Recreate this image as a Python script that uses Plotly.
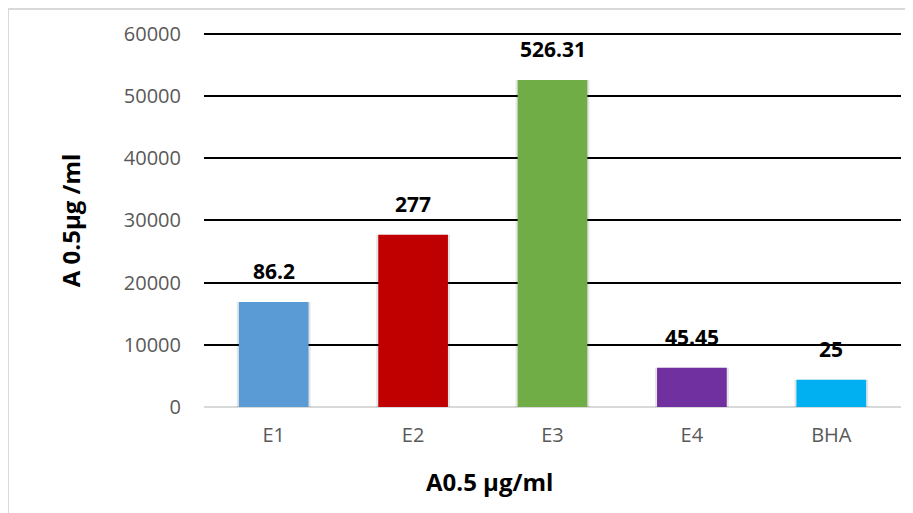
import plotly.graph_objects as go

categories = ["E1", "E2", "E3", "E4", "BHA"]
bar_values = [16900, 27700, 52600, 6300, 4400]
label_texts = ["86.2", "277", "526.31", "45.45", "25"]
bar_colors = ["#5B9BD5", "#C00000", "#70AD47", "#7030A0", "#00B0F0"]
y_ticks = [0, 10000, 20000, 30000, 40000, 50000, 60000]
y_tick_text = ["0", "10000", "20000", "30000", "40000", "50000", "60000"]

x_title = "A0.5 µg/ml"
y_title = "A 0.5µg /ml"

FONT = "Open Sans"

fig = go.Figure()

# soft shadow
fig.add_trace(go.Bar(
    x=categories, y=bar_values, width=0.53,
    marker=dict(color="rgba(0,0,0,0.10)", line=dict(width=0)),
    hoverinfo="skip", showlegend=False,
))
fig.add_trace(go.Bar(
    x=categories, y=bar_values, width=0.5,
    marker=dict(color=bar_colors, line=dict(width=0)),
    showlegend=False,
))
fig.update_layout(barmode="overlay")

for c, v, t in zip(categories, bar_values, label_texts):
    fig.add_annotation(
        x=c, y=v, text=t, showarrow=False, yanchor="middle", yshift=31,
        font=dict(family=FONT, size=21, color="#000000", weight="bold"),
    )

fig.add_annotation(
    xref="paper", yref="paper", x=0.4096, y=-0.198, text=x_title,
    showarrow=False, xanchor="center", yanchor="middle",
    font=dict(family=FONT, size=24, color="#000000", weight="bold"),
)
fig.add_annotation(
    xref="paper", yref="paper", x=-0.192, y=0.5, text=y_title, textangle=-90,
    showarrow=False, xanchor="center", yanchor="middle",
    font=dict(family=FONT, size=24, color="#000000", weight="bold"),
)

# top gridline (at the range edge)
fig.add_shape(
    type="line", xref="paper", yref="y", x0=0, x1=1,
    y0=y_ticks[-1], y1=y_ticks[-1],
    line=dict(color="#000000", width=2), layer="below",
)

# outer chart border (runs off canvas on right/bottom)
fig.add_shape(
    type="rect", xref="paper", yref="paper",
    x0=-0.2812, x1=1.04, y0=-0.33, y1=1.0643,
    line=dict(color="#D9D9D9", width=2), fillcolor="rgba(0,0,0,0)", layer="below",
)

fig.update_layout(
    width=913, height=513,
    margin=dict(l=196, r=20, t=25, b=114),
    paper_bgcolor="white", plot_bgcolor="white",
    bargap=0.5,
    xaxis=dict(
        showgrid=False, zeroline=False, showline=False,
        tickfont=dict(family=FONT, size=20, color="#595959"),
        ticks="", ticklabelstandoff=14,
    ),
    yaxis=dict(
        range=[0, 60150], tickvals=y_ticks, ticktext=y_tick_text,
        showgrid=True, gridcolor="#000000", gridwidth=2,
        zeroline=True, zerolinecolor="#D9D9D9", zerolinewidth=2,
        showline=False, ticks="",
        tickfont=dict(family=FONT, size=20, color="#595959"),
        ticklabelstandoff=22,
    ),
)

fig.write_html("out.html")
